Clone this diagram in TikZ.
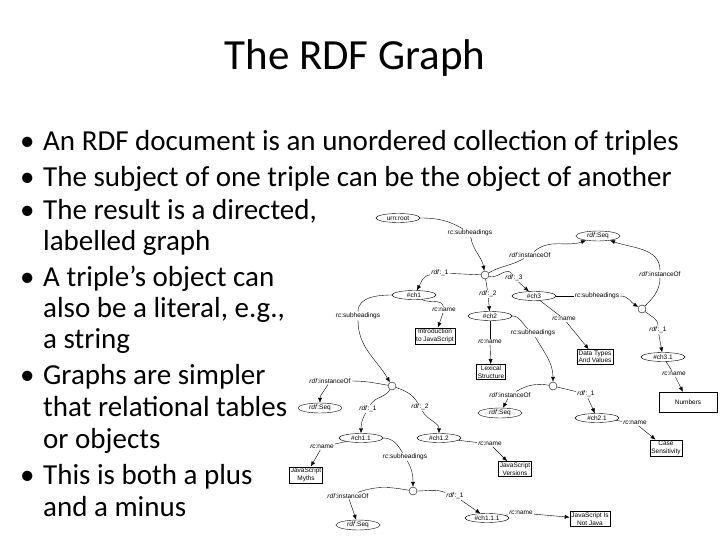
\documentclass[tikz,border=0pt]{standalone}
\usepackage{fontspec}
\setmainfont{Carlito}
\newfontfamily\gfont{Liberation Sans}
\usetikzlibrary{shapes.geometric,arrows.meta}
\begin{document}
\begin{tikzpicture}[x=1pt,y=-1pt,
 el/.style={draw,ellipse,inner sep=0.5pt,minimum height=9,minimum width=44,font=\gfont\fontsize{6.5}{7}\selectfont},
 bx/.style={draw,rectangle,inner sep=1.5pt,align=center,font=\gfont\fontsize{6.5}{7.5}\selectfont},
 bl/.style={draw,circle,minimum size=8,inner sep=0},
 lb/.style={inner sep=1pt,font=\gfont\fontsize{6.5}{7}\selectfont},
 ar/.style={-{Latex[length=5pt,width=4pt]}},
 bt/.style={anchor=base west,font=\fontsize{29}{33}\selectfont,inner sep=0}]
\useasboundingbox (0,0) rectangle (720,540);
\node[font=\fontsize{43}{48}\selectfont] (title) at (355,58) {The RDF Graph};
\node[bt] (d1) at (20,151) {•}; \node[bt] (t1) at (43,151) {An RDF document is an unordered collection of triples};
\node[bt] (d2) at (20,187) {•}; \node[bt] (t2) at (43,187) {The subject of one triple can be the object of another};
\node[bt] (d3) at (20,219) {•}; \node[bt] (t3) at (43,219) {The result is a directed,};
\node[bt] (t3b) at (43,251) {labelled graph};
\node[bt] (d4) at (20,286) {•}; \node[bt] (t4) at (43,286) {A triple’s object can};
\node[bt] (t4b) at (43,317) {also be a literal, e.g.,};
\node[bt] (t4c) at (43,348) {a string};
\node[bt] (d5) at (20,384) {•}; \node[bt] (t5) at (43,384) {Graphs are simpler};
\node[bt] (t5b) at (43,416) {that relational tables};
\node[bt] (t5c) at (43,448) {or objects};
\node[bt] (d6) at (20,484) {•}; \node[bt] (t6) at (43,484) {This is both a plus};
\node[bt] (t6b) at (43,516) {and a minus};
% nodes
\node[el] (root) at (398,218) {urn:root};
\node[el] (seqA) at (598,236) {\textit{rdf}:Seq};
\node[bl] (b1) at (485,275) {};
\node[el] (ch1) at (414,295) {\#ch1};
\node[el] (ch2) at (490,316) {\#ch2};
\node[el] (ch3) at (534,296) {\#ch3};
\node[bx] (intro) at (435,336) {Introduction\\to JavaScript};
\node[bx] (lex) at (491,372) {Lexical\\Structure};
\node[bl] (b2) at (642,309) {};
\node[bx] (dtv) at (595,357) {Data Types\\And Values};
\node[el] (ch31) at (663,357) {\#ch3.1};
\node[bx,minimum width=58,minimum height=20] (num) at (688,402) {Numbers};
\node[bl] (b3) at (392,386) {};
\node[el] (seqB) at (320,408) {\textit{rdf}:Seq};
\node[el] (ch11) at (361,438) {\#ch1.1};
\node[el] (ch12) at (439,438) {\#ch1.2};
\node[bx] (myths) at (306,475) {JavaScript\\Myths};
\node[bl] (b4) at (413,491) {};
\node[el] (seqC) at (358,525) {\textit{rdf}:Seq};
\node[el] (ch111) at (487,518) {\#ch1.1.1};
\node[bx] (notjava) at (590,519) {JavaScript Is\\Not Java};
\node[bx] (vers) at (515,469) {JavaScript\\Versions};
\node[bl] (b5) at (553,386) {};
\node[el] (seqD) at (500,413) {\textit{rdf}:Seq};
\node[el] (ch21) at (597,418) {\#ch2.1};
\node[bx] (case) at (666,448) {Case\\Sensitivity};
% labels
\node[lb] (l1) at (470,233) {\textit{rc}:subheadings};
\node[lb] (l2) at (530,255) {\textit{rdf}:instanceOf};
\node[lb] (l3) at (440,273) {\textit{rdf}:\_1};
\node[lb] (l4) at (488,294) {\textit{rdf}:\_2};
\node[lb] (l5) at (514,278) {\textit{rdf}:\_3};
\node[lb] (l6) at (444,310) {\textit{rc}:name};
\node[lb] (l7) at (358,316) {\textit{rc}:subheadings};
\node[lb] (l8) at (490,342) {\textit{rc}:name};
\node[lb] (l9) at (533,333) {\textit{rc}:subheadings};
\node[lb] (l10) at (597,296) {\textit{rc}:subheadings};
\node[lb] (l11) at (660,274) {\textit{rdf}:instanceOf};
\node[lb] (l12) at (564,319) {\textit{rc}:name};
\node[lb] (l13) at (658,330) {\textit{rdf}:\_1};
\node[lb] (l14) at (674,374) {\textit{rc}:name};
\node[lb] (l15) at (330,381) {\textit{rdf}:instanceOf};
\node[lb] (l16) at (368,409) {\textit{rdf}:\_1};
\node[lb] (l17) at (420,407) {\textit{rdf}:\_2};
\node[lb] (l18) at (322,447) {\textit{rc}:name};
\node[lb] (l19) at (405,457) {\textit{rc}:subheadings};
\node[lb] (l20) at (348,496) {\textit{rdf}:instanceOf};
\node[lb] (l21) at (455,496) {\textit{rdf}:\_1};
\node[lb] (l22) at (521,513) {\textit{rc}:name};
\node[lb] (l23) at (490,444) {\textit{rc}:name};
\node[lb] (l24) at (510,395) {\textit{rdf}:instanceOf};
\node[lb] (l25) at (586,394) {\textit{rdf}:\_1};
\node[lb] (l26) at (635,423) {\textit{rc}:name};
% edges
\draw (root) to[out=0,in=150] (l1); \draw[ar] (l1) to[out=-80,in=100] (b1);
\draw (b1) to[out=30,in=-150] (l2); \draw[ar] (l2) to[out=40,in=-160] (seqA);
\draw (b1) -- (l3); \draw[ar] (l3) to[out=-170,in=60] (ch1);
\draw (b1) -- (l4); \draw[ar] (l4) -- (ch2);
\draw (b1) to[out=-20,in=120] (l5); \draw[ar] (l5) -- (ch3);
\draw (ch1) to[out=-30,in=100] (l6); \draw[ar] (l6) -- (intro);
\draw (ch1) to[out=180,in=90] (l7); \draw[ar] (l7) to[out=-90,in=120] (b3);
\draw (ch2) -- (l8); \draw[ar] (l8) -- (lex);
\draw (ch2) to[out=0,in=140] (l9); \draw[ar] (l9) to[out=-60,in=90] (b5);
\draw (ch3) -- (l10); \draw[ar] (l10) to[out=0,in=150] (b2);
\draw (b2) to[out=45,in=-90] (l11); \draw[ar] (l11) to[out=90,in=-20] (seqA);
\draw (ch3) -- (l12); \draw[ar] (l12) -- (dtv);
\draw (b2) to[out=-40,in=90] (l13); \draw[ar] (l13) -- (ch31);
\draw (ch31) -- (l14); \draw[ar] (l14) -- (num);
\draw (b3) to[out=170,in=0] (l15); \draw[ar] (l15) to[out=-120,in=90] (seqB);
\draw (b3) to[out=-120,in=60] (l16); \draw[ar] (l16) to[out=-120,in=90] (ch11);
\draw (b3) to[out=-20,in=120] (l17); \draw[ar] (l17) to[out=-60,in=90] (ch12);
\draw (ch11) -- (l18); \draw[ar] (l18) -- (myths);
\draw (ch11) to[out=0,in=120] (l19); \draw[ar] (l19) to[out=-60,in=90] (b4);
\draw (b4) to[out=170,in=20] (l20); \draw[ar] (l20) -- (seqC);
\draw (b4) to[out=0,in=160] (l21); \draw[ar] (l21) -- (ch111);
\draw (ch111) -- (l22); \draw[ar] (l22) -- (notjava);
\draw (ch12) -- (l23); \draw[ar] (l23) -- (vers);
\draw (b5) to[out=170,in=30] (l24); \draw[ar] (l24) -- (seqD);
\draw (b5) -- (l25); \draw[ar] (l25) -- (ch21);
\draw (ch21) -- (l26); \draw[ar] (l26) -- (case);
\end{tikzpicture}
\end{document}
